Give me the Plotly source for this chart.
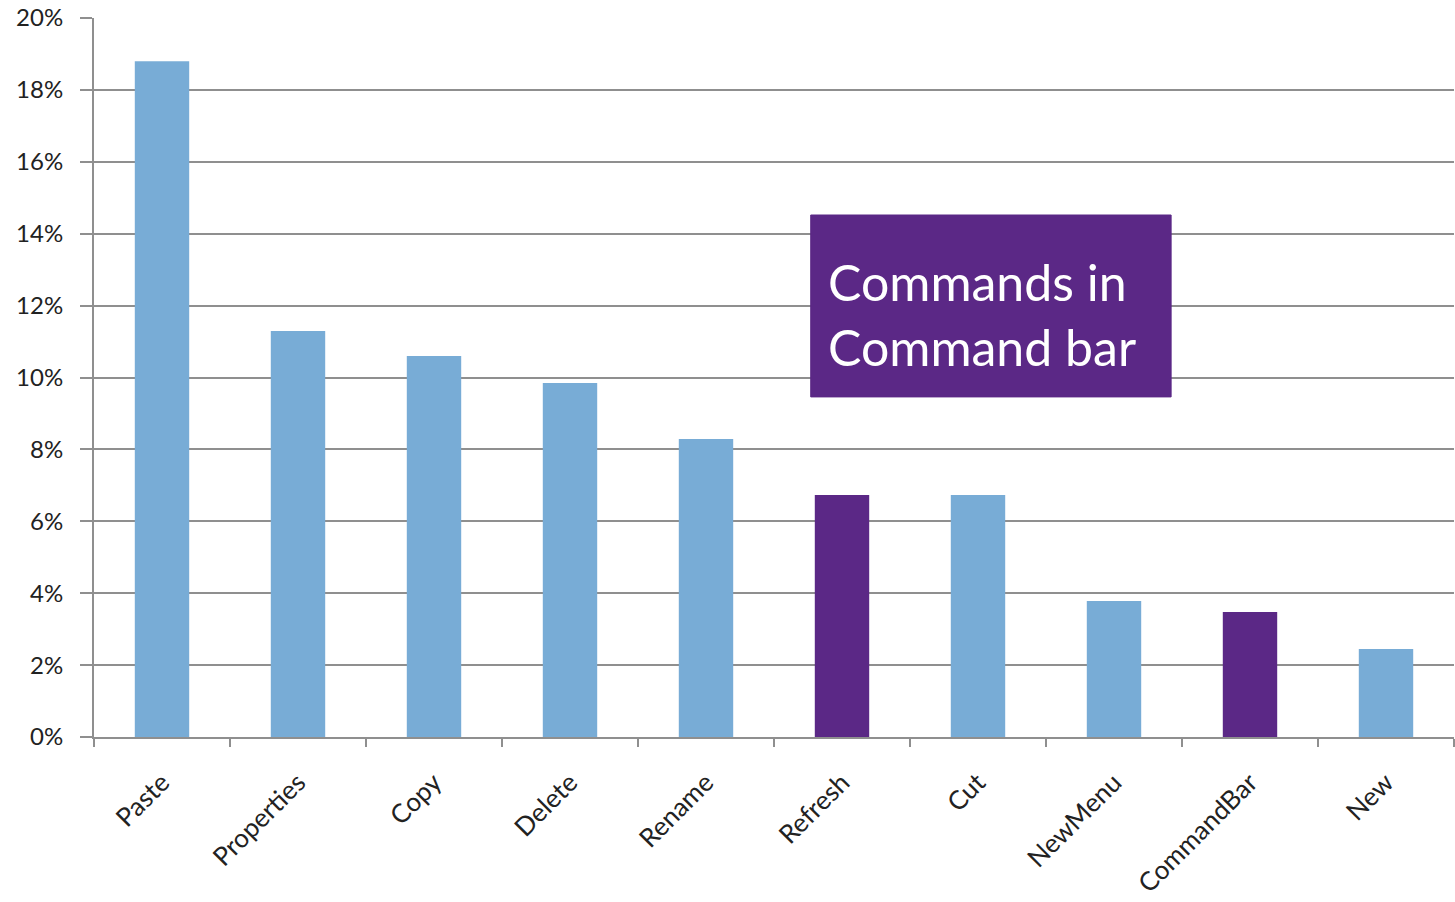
import plotly.graph_objects as go

# Share of command invocations
commands = ["Paste", "Properties", "Copy", "Delete", "Rename",
            "Refresh", "Cut", "NewMenu", "CommandBar", "New"]
shares = [0.188, 0.1129, 0.106, 0.0985, 0.0829,
          0.0673, 0.0673, 0.0378, 0.0348, 0.0245]
in_command_bar = [False, False, False, False, False,
                  True, False, False, True, False]

BLUE = "#78ACD6"
PURPLE = "#5B2886"
GRID = "#8F8F8F"

bar_colors = [PURPLE if flag else BLUE for flag in in_command_bar]

fig = go.Figure(
    go.Bar(
        x=commands,
        y=shares,
        marker=dict(color=bar_colors, line=dict(width=0)),
        width=0.4,
    )
)

fig.update_layout(
    width=1455,
    height=902,
    margin=dict(l=94, r=1, t=18, b=165),
    plot_bgcolor="white",
    paper_bgcolor="white",
    showlegend=False,
    font=dict(family="Lato, Open Sans, sans-serif", color="#222222", size=24),
    bargap=0.6,
)

fig.update_yaxes(
    range=[0, 0.20],
    dtick=0.02,
    tickformat=".0%",
    showgrid=True,
    gridcolor=GRID,
    gridwidth=2,
    showline=True,
    linecolor=GRID,
    linewidth=2,
    ticks="outside",
    ticklen=12,
    tickcolor=GRID,
    tickwidth=2,
    zeroline=False,
    tickfont=dict(size=24),
    ticklabelstandoff=12,
)

fig.update_xaxes(
    showline=True,
    linecolor=GRID,
    linewidth=2,
    ticks="outside",
    tickson="boundaries",
    ticklen=8,
    tickcolor=GRID,
    tickwidth=2,
    tickangle=-45,
    tickfont=dict(size=26),
    ticklabelstandoff=18,
    showgrid=False,
)

# Callout box explaining the purple bars
fig.add_shape(
    type="rect",
    xref="paper", yref="paper",
    x0=0.527, x1=0.792, y0=0.473, y1=0.726,
    fillcolor=PURPLE,
    line=dict(color=PURPLE, width=1),
    layer="above",
)
fig.add_annotation(
    xref="paper", yref="paper",
    x=0.538, y=0.588,
    xanchor="left", yanchor="middle",
    align="left",
    text="Commands in<br>Command bar",
    showarrow=False,
    font=dict(size=50, color="white", family="Lato, Open Sans, sans-serif"),
)

fig.write_html("out.html")
